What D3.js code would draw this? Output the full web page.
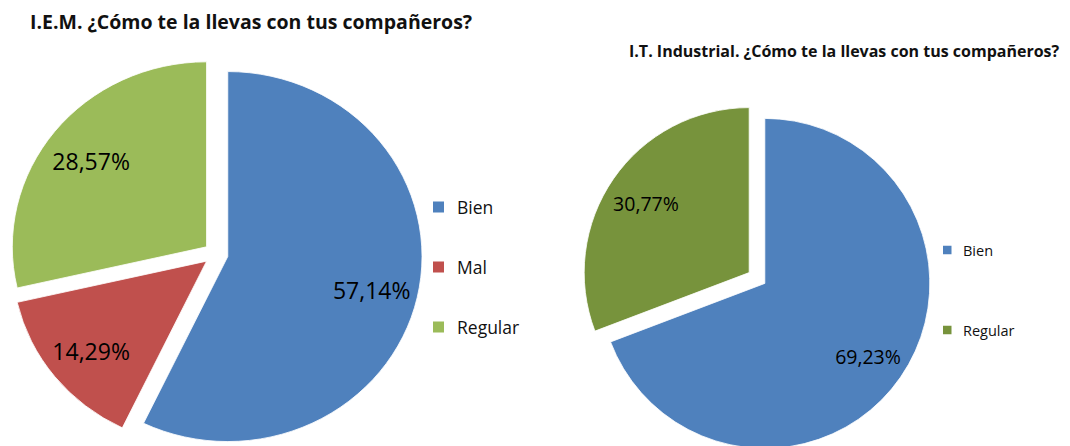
<head>
    <meta charset="utf-8">
    <style>
        body { margin: 0; background: #fff; }
        text { font-family: "Open Sans", "Noto Sans", sans-serif; }
    </style>
    <script src="https://d3js.org/d3.v7.min.js"></script>
</head>
<body>
<div id="chart"></div>
<script>

    // I.E.M.
    var iemCats = ["Bien", "Mal", "Regular"];
    var iemVals = [57.14, 14.29, 28.57];
    var iemLabels = ["57,14%", "14,29%", "28,57%"];
    var iemColors = ["#4f81bd", "#c0504d", "#9bbb59"];

    // I.T. Industrial
    var itiCats = ["Bien", "Regular"];
    var itiVals = [69.23, 30.77];
    var itiLabels = ["69,23%", "30,77%"];
    var itiColors = ["#4f81bd", "#77933c"];

    var W = 1070, H = 446;

    var svg = d3.select("#chart").append("svg")
        .attr("width", W)
        .attr("height", H);

    function drawPie(opt) {

        var g = svg.append("g").attr("transform", "translate(" + opt.cx + "," + opt.cy + ")");

        var pie = d3.pie().sort(null).value(d => d.v);
        var arcs = pie(opt.cats.map((c, i) => ({ c: c, v: opt.vals[i], lab: opt.labels[i], col: opt.colors[i] })));

        var arc = d3.arc().innerRadius(0).outerRadius(opt.r);

        function dir(a) { return [Math.sin(a), -Math.cos(a)]; }

        var slices = g.append("g").attr("transform", "scale(" + opt.sx + ",1)");

        slices.selectAll("path")
            .data(arcs)
            .enter()
            .append("path")
            .attr("d", arc)
            .attr("fill", d => d.data.col)
            .attr("stroke", "#ffffff")
            .attr("stroke-width", 0.8)
            .attr("transform", function(d) {
                var m = dir((d.startAngle + d.endAngle) / 2);
                return "translate(" + (m[0] * opt.explode) + "," + (m[1] * opt.explode) + ")";
            });

        g.selectAll(".lab")
            .data(arcs)
            .enter()
            .append("text")
            .attr("class", "lab")
            .attr("x", function(d) {
                var m = dir((d.startAngle + d.endAngle) / 2);
                return m[0] * (opt.explode + opt.r * 0.76) * opt.sx;
            })
            .attr("y", function(d) {
                var m = dir((d.startAngle + d.endAngle) / 2);
                return m[1] * (opt.explode + opt.r * 0.76) + 2;
            })
            .attr("text-anchor", "middle")
            .attr("dominant-baseline", "central")
            .attr("font-size", opt.labSize)
            .attr("fill", "#000")
            .text(d => d.data.lab);

        // legend
        var leg = svg.append("g");
        opt.cats.forEach(function(c, i) {
            var y = opt.legY + i * opt.legStep;
            leg.append("rect")
                .attr("x", opt.legX)
                .attr("y", y - opt.sq / 2)
                .attr("width", opt.sq)
                .attr("height", opt.sq)
                .attr("fill", opt.colors[i]);
            leg.append("text")
                .attr("x", opt.legX + opt.legGap)
                .attr("y", y)
                .attr("dominant-baseline", "central")
                .attr("font-size", opt.legSize)
                .attr("fill", "#111")
                .text(c);
        });

        svg.append("text")
            .attr("x", opt.tx)
            .attr("y", opt.ty)
            .attr("font-size", opt.titleSize)
            .attr("font-weight", "bold")
            .attr("fill", "#111")
            .text(opt.title);
    }

    drawPie({
        cats: iemCats, vals: iemVals, labels: iemLabels, colors: iemColors,
        cx: 216, cy: 254, r: 185, sx: 1.05, explode: 11.5, labSize: 23,
        legX: 433, legY: 207, legStep: 60, sq: 11, legGap: 24, legSize: 17.5,
        title: "I.E.M. ¿Cómo te la llevas con tus compañeros?", tx: 30, ty: 29, titleSize: 19.5
    });

    drawPie({
        cats: itiCats, vals: itiVals, labels: itiLabels, colors: itiColors,
        cx: 757, cy: 278, r: 165, sx: 1.0, explode: 9.5, labSize: 19.5,
        legX: 943, legY: 250, legStep: 80, sq: 8.5, legGap: 20, legSize: 14.5,
        title: "I.T. Industrial. ¿Cómo te la llevas con tus compañeros?", tx: 629, ty: 57, titleSize: 16
    });

</script>
</body>
